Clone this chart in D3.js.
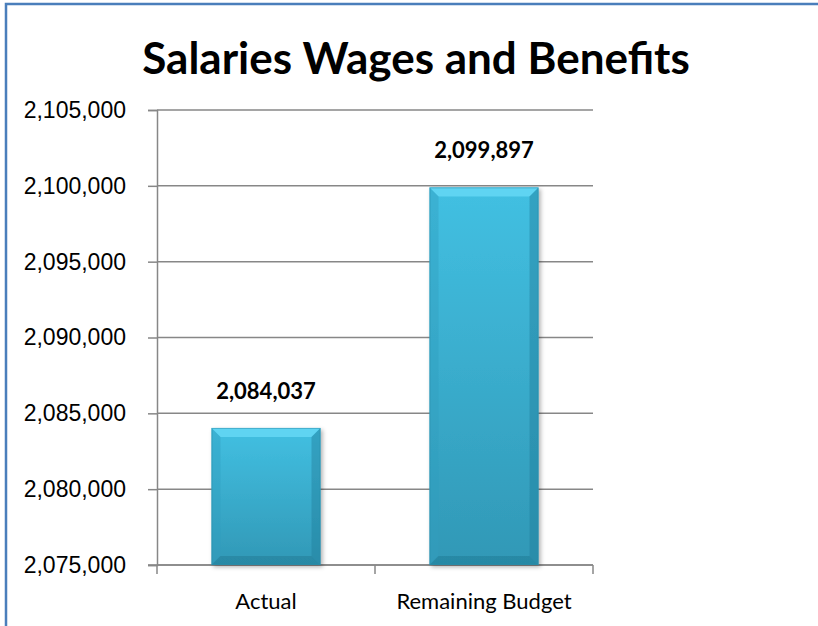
<!DOCTYPE html>
<html>
<head>
<meta charset="utf-8">
<script src="https://cdn.jsdelivr.net/npm/d3@7"></script>
<style>
  body { margin: 0; background: #fff; }
  svg { display: block; font-family: Lato, "Noto Sans", sans-serif; }
</style>
</head>
<body>
<div id="chart"></div>
<script>
'use strict';

// data
var categories = ["Actual", "Remaining Budget"];
var values = [2084037, 2099897];
var yTicks = [2075000, 2080000, 2085000, 2090000, 2095000, 2100000, 2105000];
var chartTitle = "Salaries Wages and Benefits";

var W = 818, H = 626;
var margin = {top: 110, right: 225, bottom: 61, left: 157};

var svg = d3.select("#chart").append("svg")
  .attr("width", W)
  .attr("height", H);

// frame (only top and left edges visible)
svg.append("rect")
  .attr("x", 6).attr("y", 4)
  .attr("width", 900).attr("height", 700)
  .attr("fill", "none")
  .attr("stroke", "#4a7ebb")
  .attr("stroke-width", 2.5);

var x = d3.scaleBand()
  .domain(categories)
  .range([margin.left, W - margin.right])
  .paddingInner(0.5)
  .paddingOuter(0.25);

var y = d3.scaleLinear()
  .domain([yTicks[0], yTicks[yTicks.length - 1]])
  .range([H - margin.bottom, margin.top]);

var fmt = d3.format(",");

// gradients for the bevelled bars
var defs = svg.append("defs");
var body = defs.append("linearGradient").attr("id", "barBody")
  .attr("x1", 0).attr("y1", 0).attr("x2", 0).attr("y2", 1);
body.append("stop").attr("offset", "0%").attr("stop-color", "#42c0e2");
body.append("stop").attr("offset", "100%").attr("stop-color", "#3198b6");

var shadow = defs.append("filter").attr("id", "shadow")
  .attr("x", "-10%").attr("y", "-10%").attr("width", "130%").attr("height", "130%");
shadow.append("feDropShadow")
  .attr("dx", 2).attr("dy", 2).attr("stdDeviation", 2)
  .attr("flood-color", "#000").attr("flood-opacity", 0.3);

// gridlines
svg.append("g")
  .selectAll("line")
  .data(yTicks)
  .join("line")
  .attr("x1", margin.left)
  .attr("x2", W - margin.right)
  .attr("y1", d => y(d))
  .attr("y2", d => y(d))
  .attr("stroke", "#878787")
  .attr("stroke-width", 1.5);

// y axis
var yAxis = svg.append("g")
  .attr("transform", "translate(" + margin.left + ",0)")
  .call(d3.axisLeft(y).tickValues(yTicks).tickFormat(fmt).tickSize(9).tickPadding(22));
yAxis.select(".domain").attr("stroke", "#878787").attr("stroke-width", 1.5);
yAxis.selectAll(".tick line").attr("stroke", "#878787").attr("stroke-width", 1.5);
yAxis.selectAll(".tick text")
  .attr("fill", "#000")
  .style("font-size", "23px");

// x axis: ticks sit between categories
var bounds = [x.range()[0]].concat(categories.map(c => x(c) + x.bandwidth() + x.step() * x.paddingInner() / 2));
bounds[bounds.length - 1] = x.range()[1];

var xAxisG = svg.append("g")
  .attr("transform", "translate(0," + y.range()[0] + ")");
xAxisG.append("line")
  .attr("x1", x.range()[0] - 9).attr("x2", x.range()[1])
  .attr("stroke", "#878787").attr("stroke-width", 1.5);
xAxisG.selectAll(".xtick")
  .data(bounds)
  .join("line")
  .attr("class", "xtick")
  .attr("x1", d => d).attr("x2", d => d)
  .attr("y1", 0).attr("y2", 9)
  .attr("stroke", "#878787").attr("stroke-width", 1.5);
xAxisG.selectAll(".xlab")
  .data(categories)
  .join("text")
  .attr("class", "xlab")
  .attr("x", d => x(d) + x.bandwidth() / 2)
  .attr("y", 44)
  .attr("text-anchor", "middle")
  .style("font-size", "22px")
  .text(d => d);

// bars
var bars = svg.append("g")
  .selectAll("g")
  .data(values)
  .join("g")
  .attr("filter", "url(#shadow)");

var bev = 9;
bars.each(function(v, i) {
  var g = d3.select(this);
  var x0 = x(categories[i]), x1 = x0 + x.bandwidth();
  var y0 = y(v), y1 = y(yTicks[0]);
  g.append("rect")
    .attr("x", x0).attr("y", y0)
    .attr("width", x1 - x0).attr("height", y1 - y0)
    .attr("fill", "url(#barBody)");
  // top bevel
  g.append("path")
    .attr("d", "M" + x0 + "," + y0 + "L" + x1 + "," + y0 + "L" + (x1 - bev) + "," + (y0 + bev) + "L" + (x0 + bev) + "," + (y0 + bev) + "Z")
    .attr("fill", "#5fd4f2");
  // left bevel
  g.append("path")
    .attr("d", "M" + x0 + "," + y0 + "L" + (x0 + bev) + "," + (y0 + bev) + "L" + (x0 + bev) + "," + (y1 - bev) + "L" + x0 + "," + y1 + "Z")
    .attr("fill", "#2f9dbd").attr("opacity", 0.4);
  // right bevel
  g.append("path")
    .attr("d", "M" + x1 + "," + y0 + "L" + (x1 - bev) + "," + (y0 + bev) + "L" + (x1 - bev) + "," + (y1 - bev) + "L" + x1 + "," + y1 + "Z")
    .attr("fill", "#217f9b").attr("opacity", 0.45);
  // bottom bevel
  g.append("path")
    .attr("d", "M" + x0 + "," + y1 + "L" + (x0 + bev) + "," + (y1 - bev) + "L" + (x1 - bev) + "," + (y1 - bev) + "L" + x1 + "," + y1 + "Z")
    .attr("fill", "#1f7a94").attr("opacity", 0.5);
  // edge outline
  g.append("rect")
    .attr("x", x0 + 0.5).attr("y", y0 + 0.5)
    .attr("width", x1 - x0 - 1).attr("height", y1 - y0 - 1)
    .attr("fill", "none")
    .attr("stroke", "#2a8ba8").attr("stroke-opacity", 0.5);
});

// value labels
svg.append("g")
  .selectAll("text")
  .data(values)
  .join("text")
  .attr("x", (d, i) => x(categories[i]) + x.bandwidth() / 2)
  .attr("y", d => y(d) - 29)
  .attr("text-anchor", "middle")
  .style("font-size", "22px")
  .style("font-weight", "bold")
  .text(d => fmt(d));

// title
svg.append("text")
  .attr("x", 416)
  .attr("y", 74)
  .attr("text-anchor", "middle")
  .style("font-size", "44px")
  .style("font-weight", "bold")
  .text(chartTitle);
</script>
</body>
</html>
